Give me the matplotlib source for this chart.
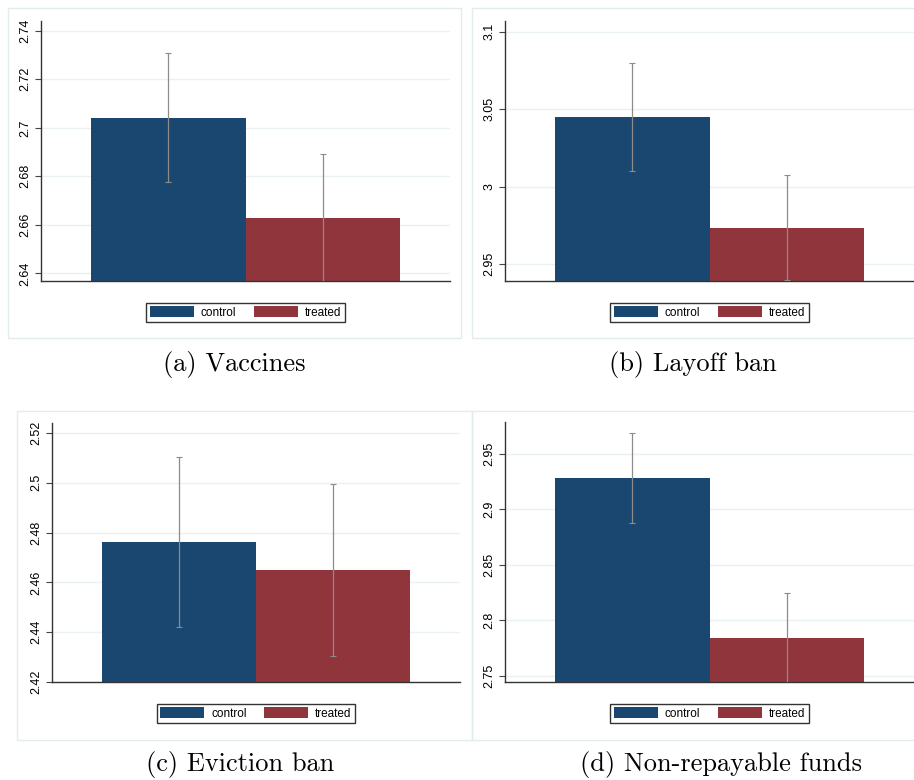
import matplotlib
matplotlib.use('Agg')
import matplotlib.pyplot as plt
from matplotlib.patches import Patch, Rectangle

# --- Data: group means and 95% CI half-widths per outcome ---
captions = ["(a) Vaccines", "(b) Layoff ban", "(c) Eviction ban", "(d) Non-repayable funds"]
groups = ["control", "treated"]
mean_control = [2.7042, 3.0448, 2.4761, 2.9282]
mean_treated = [2.6629, 2.9735, 2.4650, 2.7839]
ci_control = [0.0266, 0.0350, 0.0342, 0.0408]
ci_treated = [0.0263, 0.0341, 0.0345, 0.0404]
ytick_values = [
    [2.64, 2.66, 2.68, 2.70, 2.72, 2.74],
    [2.95, 3.00, 3.05, 3.10],
    [2.42, 2.44, 2.46, 2.48, 2.50, 2.52],
    [2.75, 2.80, 2.85, 2.90, 2.95],
]
ytick_labels = [
    ["2.64", "2.66", "2.68", "2.7", "2.72", "2.74"],
    ["2.95", "3", "3.05", "3.1"],
    ["2.42", "2.44", "2.46", "2.48", "2.5", "2.52"],
    ["2.75", "2.8", "2.85", "2.9", "2.95"],
]
ylims = [(2.6369, 2.744), (2.939, 3.107), (2.42, 2.524), (2.7442, 2.979)]

# --- Layout (pixels) ---
W, H = 914, 780
axes_px = [(41, 21, 450, 281), (505, 21, 914, 281), (52, 423, 460, 682), (505, 422, 914, 682)]
frames_px = [(8, 8, 461, 338), (472, 8, 930, 338), (17, 411, 472, 740), (472, 411, 930, 740)]
caption_px = [(234, 364), (693, 364), (240, 765), (721, 765)]

NAVY = "#1a476f"
MAROON = "#90353b"
GRID = "#eaf1f1"
FRAME = "#e2ecec"

plt.rcParams['font.family'] = ['Liberation Sans', 'DejaVu Sans']


def px_box(x0, y0, x1, y1):
    return [x0 / W, 1 - y1 / H, (x1 - x0) / W, (y1 - y0) / H]


fig = plt.figure(figsize=(W / 100, H / 100), dpi=100)

for i in range(4):
    # light outer frame around each graph region
    fx0, fy0, fx1, fy1 = frames_px[i]
    b = px_box(fx0, fy0, fx1, fy1)
    fig.patches.append(Rectangle((b[0], b[1]), b[2], b[3], transform=fig.transFigure,
                                 fill=False, edgecolor=FRAME, linewidth=1.0))

    ax = fig.add_axes(px_box(*axes_px[i]))
    means = [mean_control[i], mean_treated[i]]
    errs = [ci_control[i], ci_treated[i]]
    ax.bar([0, 1], means, width=1.0, color=[NAVY, MAROON], zorder=2)
    ax.errorbar([0, 1], means, yerr=errs, fmt='none', ecolor='#8c8c8c',
                elinewidth=0.9, capsize=2.5, capthick=0.8, zorder=3)

    ax.set_xlim(-0.825, 1.825)
    ax.set_ylim(*ylims[i])
    ax.set_xticks([])
    ax.set_yticks(ytick_values[i])
    ax.set_yticklabels(ytick_labels[i], rotation=90, va='center')
    ax.tick_params(axis='y', length=4, width=0.8, color='#444444', labelsize=9, pad=3)
    ax.grid(axis='y', color=GRID, linewidth=1.0, zorder=0)
    ax.set_axisbelow(True)
    for side in ['top', 'right']:
        ax.spines[side].set_visible(False)
    for side in ['left', 'bottom']:
        ax.spines[side].set_color('#333333')
        ax.spines[side].set_linewidth(1.0)

    # legend sits about 31 px under the plot region
    ax_h = axes_px[i][3] - axes_px[i][1]
    handles = [Patch(facecolor=NAVY, label=groups[0]), Patch(facecolor=MAROON, label=groups[1])]
    leg = ax.legend(handles=handles, ncol=2, loc='center', bbox_to_anchor=(0.5, -31.5 / ax_h),
                    fontsize=8.5, frameon=True, fancybox=False, edgecolor='black',
                    handlelength=3.7, handleheight=1.0, handletextpad=0.6,
                    columnspacing=1.5, borderpad=0.3, borderaxespad=0)
    leg.get_frame().set_linewidth(1.0)

    cx, cy = caption_px[i]
    fig.text(cx / W, 1 - cy / H, captions[i], ha='center', va='center',
             fontsize=19, family='cmr10')

fig.savefig("out.png", dpi=100)
